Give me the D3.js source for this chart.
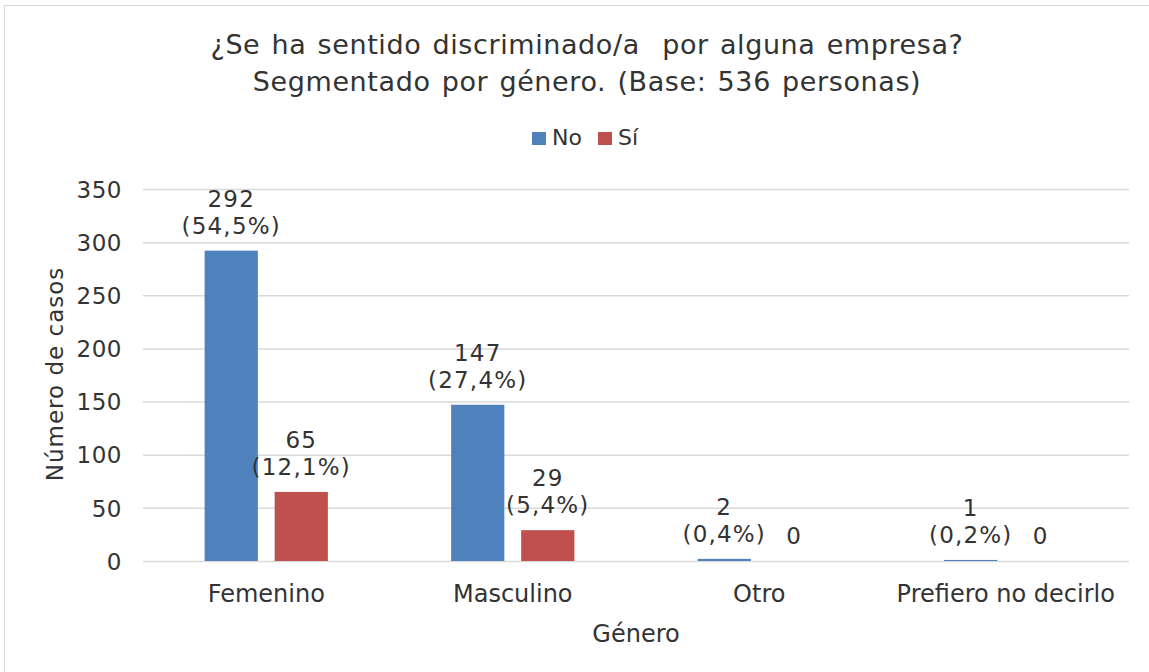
<!DOCTYPE html>
<html>
<head>
<meta charset="utf-8">
<script src="https://cdn.jsdelivr.net/npm/d3@7"></script>
<style>
  body { margin: 0; background: #fff; }
  svg text { font-family: "DejaVu Sans", Verdana, sans-serif; fill: #333; }
</style>
</head>
<body>
<script>
const w = 1149;
const h = 672;
const categories = ["Femenino", "Masculino", "Otro", "Prefiero no decirlo"];
const series = ["No", "Sí"];
const noValues = [292, 147, 2, 1];
const siValues = [65, 29, 0, 0];
const noPct = ["54,5%", "27,4%", "0,4%", "0,2%"];
const siPct = ["12,1%", "5,4%", null, null];
const yTicks = [0, 50, 100, 150, 200, 250, 300, 350];
const colors = { "No": "#4F81BD", "Sí": "#C0504D" };

const margin = { top: 189, right: 20, bottom: 111, left: 143 };

const rows = categories.map((c, i) => ({
  cat: c,
  bars: [
    { key: "No", value: noValues[i], pct: noPct[i] },
    { key: "Sí", value: siValues[i], pct: siPct[i] }
  ]
}));

const svg = d3.select("body").append("svg").attr("width", w).attr("height", h);

// chart border
svg.append("rect")
  .attr("x", 4.5).attr("y", 5.5)
  .attr("width", w + 20).attr("height", h + 20)
  .attr("fill", "#fff")
  .attr("stroke", "#D9D9D9");

const x0 = d3.scaleBand()
  .domain(categories)
  .range([margin.left, w - margin.right])
  .paddingInner(0.5)
  .paddingOuter(0.25);
const x1 = d3.scaleBand()
  .domain(series)
  .range([0, x0.bandwidth()])
  .paddingInner(0.24);
const y = d3.scaleLinear().domain([0, 350]).range([h - margin.bottom, margin.top]);

// gridlines
svg.append("g")
  .selectAll("line")
  .data(yTicks)
  .enter()
  .append("line")
  .attr("x1", margin.left)
  .attr("x2", w - margin.right)
  .attr("y1", (d) => y(d) + 0.5)
  .attr("y2", (d) => y(d) + 0.5)
  .attr("stroke", "#D9D9D9")
  .attr("stroke-width", 1.5);

// y axis
const yAxis = d3.axisLeft(y).tickValues(yTicks).tickSize(0).tickPadding(21);
const gy = svg.append("g")
  .attr("transform", `translate(${margin.left}, 0)`)
  .call(yAxis);
gy.select(".domain").remove();
gy.selectAll("text")
  .attr("font-size", 23)
  .attr("letter-spacing", 0.5)
  .attr("dy", "0.36em");

// x axis
const xAxis = d3.axisBottom(x0).tickSize(0).tickPadding(0);
const gx = svg.append("g")
  .attr("transform", `translate(0, ${y(0)})`)
  .call(xAxis);
gx.select(".domain").remove();
gx.selectAll("text")
  .attr("font-size", 24)
  .attr("y", 41)
  .attr("dy", 0);

// bars
const groups = svg.append("g")
  .selectAll("g")
  .data(rows)
  .enter()
  .append("g")
  .attr("transform", (d) => `translate(${x0(d.cat)}, 0)`);

groups.selectAll("rect")
  .data((d) => d.bars)
  .enter()
  .append("rect")
  .attr("x", (d) => x1(d.key))
  .attr("width", x1.bandwidth())
  .attr("y", (d) => y(d.value))
  .attr("height", (d) => y(0) - y(d.value))
  .attr("fill", (d) => colors[d.key]);

// data labels
const labels = groups.selectAll("text.lbl")
  .data((d) => d.bars)
  .enter()
  .append("text")
  .attr("class", "lbl")
  .attr("text-anchor", "middle")
  .attr("font-size", 23)
  .attr("letter-spacing", 1.2)
  .attr("x", (d) => x1(d.key) + x1.bandwidth() / 2)
  .attr("y", (d) => y(d.value) - 17);
labels.each(function (d) {
  const t = d3.select(this);
  if (d.pct) {
    t.append("tspan").attr("x", t.attr("x")).attr("dy", -27).text(d.value);
    t.append("tspan").attr("x", t.attr("x")).attr("dy", 27).text(`(${d.pct})`);
  } else {
    t.text(d.value);
  }
});

// title
const title = svg.append("text")
  .attr("text-anchor", "middle")
  .attr("font-size", 27)
  .attr("letter-spacing", 0.6)
  .attr("word-spacing", 2)
  .style("white-space", "pre");
title.append("tspan").attr("x", 587).attr("y", 54).text("¿Se ha sentido discriminado/a  por alguna empresa?");
title.append("tspan").attr("x", 587).attr("y", 91).text("Segmentado por género. (Base: 536 personas)");

// legend
const legend = svg.append("g").attr("transform", "translate(532, 132)");
const legendItems = [
  { key: "No", x: 0 },
  { key: "Sí", x: 66 }
];
legendItems.forEach((it) => {
  legend.append("rect")
    .attr("x", it.x).attr("y", 0)
    .attr("width", 14).attr("height", 13)
    .attr("fill", colors[it.key]);
  legend.append("text")
    .attr("x", it.x + 20).attr("y", 13)
    .attr("font-size", 22)
    .text(it.key);
});

// axis titles
svg.append("text")
  .attr("text-anchor", "middle")
  .attr("font-size", 23)
  .attr("letter-spacing", 1)
  .attr("transform", "translate(63, 374) rotate(-90)")
  .text("Número de casos");
svg.append("text")
  .attr("text-anchor", "middle")
  .attr("font-size", 24)
  .attr("x", 636)
  .attr("y", 642)
  .text("Género");
</script>
</body>
</html>
